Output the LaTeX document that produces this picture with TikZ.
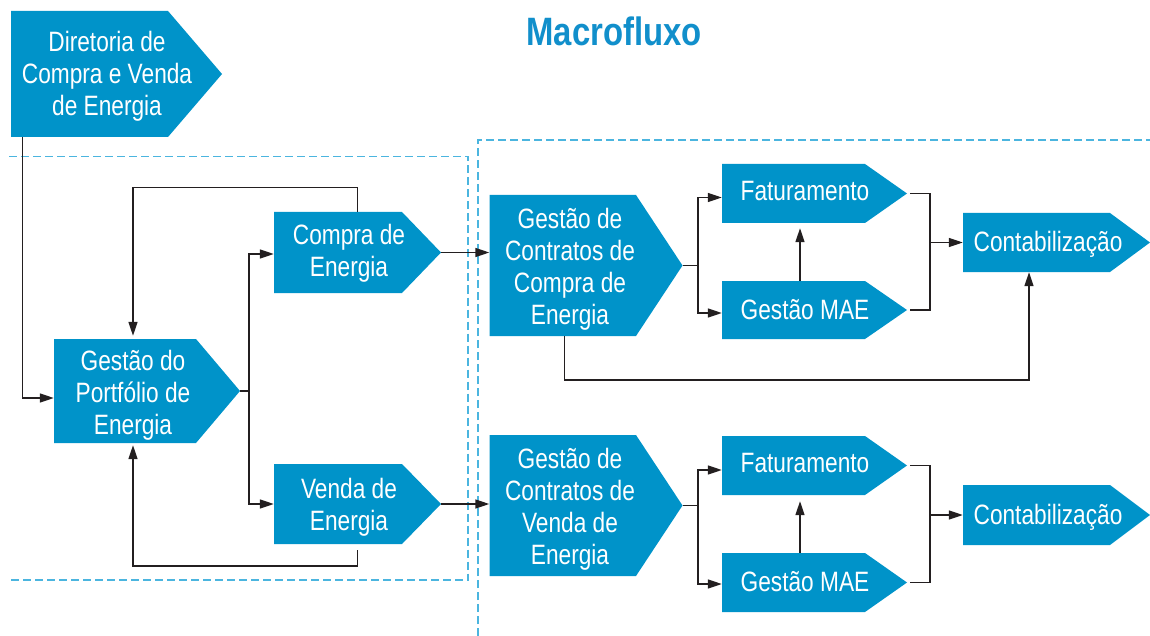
\documentclass[tikz,border=0pt]{standalone}
\usepackage{fontspec}
\newfontfamily\boxfont[FakeStretch=0.81]{Liberation Sans}
\newfontfamily\ttlfont[FakeStretch=0.83]{Liberation Sans}
\usetikzlibrary{arrows.meta,fit}
\definecolor{boxblue}{HTML}{0093C9}
\definecolor{ttlblue}{HTML}{118FCB}
\definecolor{dashblue}{HTML}{4BB5DF}
\definecolor{linec}{HTML}{231F20}
\tikzset{
  boxtext/.style={text=white, font=\boxfont\fontsize{28}{32}\selectfont, align=center, inner sep=0pt},
  conn/.style={draw=linec, line width=1.5pt},
  arr/.style={conn, -{Triangle[length=14pt,width=9pt]}},
  dashline/.style={draw=dashblue, line width=1.6pt, dash pattern=on 8pt off 4pt},
}
% #1 name, #2 left, #3 top, #4 rect right, #5 tip x, #6 bottom, #7 text x, #8 text y, #9 text
\newcommand\pentbox[9]{%
  \fill[boxblue] (#2,#3) -- (#4,#3) -- (#5,{(#3+#6)/2}) -- (#4,#6) -- (#2,#6) -- cycle;
  \node[fit={(#2,#3) (#5,#6)}, inner sep=0pt] (#1) {};
  \node[boxtext] (#1-t) at (#7,#8) {#9};
}
\begin{document}
\begin{tikzpicture}[x=1pt,y=-1pt]
\useasboundingbox (0,0) rectangle (1150,636);

% dashed frames
\draw[dashline] (9,156.5) -- (468,156.5) -- (468,580) -- (9,580);
\draw[dashline] (478,636) -- (478,140) -- (1150,140);

% title
\node[font=\ttlfont\bfseries\fontsize{39.6}{44}\selectfont, text=ttlblue, anchor=base, inner sep=0pt] (title) at (614,45.7) {Macrofluxo};

% boxes
\pentbox{dir}{11}{11}{168}{222}{137}{107}{76}{Diretoria de\\Compra e Venda\\de Energia}
\pentbox{portf}{54}{339}{196}{240}{443}{133}{395}{Gestão do\\Portfólio de\\Energia}
\pentbox{compra}{274}{212}{402}{441}{293}{349}{253.5}{Compra de\\Energia}
\pentbox{venda}{274}{464}{402}{441}{544}{349}{507}{Venda de\\Energia}
\pentbox{contc}{489.5}{195}{636}{682.5}{336}{570}{269}{Gestão de\\Contratos de\\Compra de\\Energia}
\pentbox{fat1}{722}{164}{865}{907}{223}{805}{191}{Faturamento}
\pentbox{mae1}{722}{281}{865}{907}{339}{805}{310}{Gestão MAE}
\pentbox{contab1}{963}{213}{1110}{1150}{272}{1048}{244.5}{Contabilização}
\pentbox{contv}{489.5}{435}{636}{682.5}{576}{570}{509}{Gestão de\\Contratos de\\Venda de\\Energia}
\pentbox{fat2}{722}{436}{865}{907}{495}{805}{463.5}{Faturamento}
\pentbox{mae2}{722}{553}{865}{907}{612}{805}{581.5}{Gestão MAE}
\pentbox{contab2}{963}{485}{1110}{1150}{545}{1048}{517}{Contabilização}

% left connectors
\draw[arr] ([xshift=11.7pt]dir.south west) |- ([yshift=-7pt]portf.west);
\draw[arr, shorten >=3pt] (compra.north) -- ++(0,-24.3) -| ([xshift=-14pt]portf.north);
\draw[arr] (portf.east) -- ++(9,0) coordinate (pb) |- ([yshift=-1.5pt]compra.west);
\draw[arr] (pb) |- (venda.west);
\draw[arr, shorten >=2pt] ([yshift=-6pt]venda.south) -- ++(0,15.7) -| ([xshift=-14pt]portf.south);
\draw[arr] (compra.east) -- (compra.east -| contc.west);
\draw[arr] (venda.east) -- (venda.east -| contv.west);

% top right connectors
\draw[conn] (contc.east) -- ++(15.5,0) coordinate (cb1);
\draw[arr] (cb1) |- ([yshift=-4pt]fat1.west);
\draw[arr] (cb1) |- ([yshift=-3pt]mae1.west);
\draw[arr, shorten >=5pt] ([xshift=-14.5pt]mae1.north) -- ([xshift=-14.5pt]fat1.south);
\draw[conn] ([xshift=3pt]fat1.east) -- ++(20,0) coordinate (j1) |- ([xshift=3pt]mae1.east);
\draw[arr] (j1 |- contab1.west) -- (contab1.west);
\draw[arr] ([xshift=-21.5pt]contc.south) -- ++(0,44) -| ([xshift=-27.5pt]contab1.south);

% bottom right connectors
\draw[conn] (contv.east) -- ++(15.5,0) coordinate (cb2);
\draw[arr] (cb2) |- ([yshift=-4.5pt]fat2.west);
\draw[arr] (cb2) |- ([yshift=-1.5pt]mae2.west);
\draw[arr, shorten >=6pt] ([xshift=-14.5pt]mae2.north) -- ([xshift=-14.5pt]fat2.south);
\draw[conn] ([xshift=3pt]fat2.east) -- ++(20,0) coordinate (j2) |- ([xshift=3pt]mae2.east);
\draw[arr] (j2 |- contab2.west) -- (contab2.west);
\end{tikzpicture}
\end{document}
